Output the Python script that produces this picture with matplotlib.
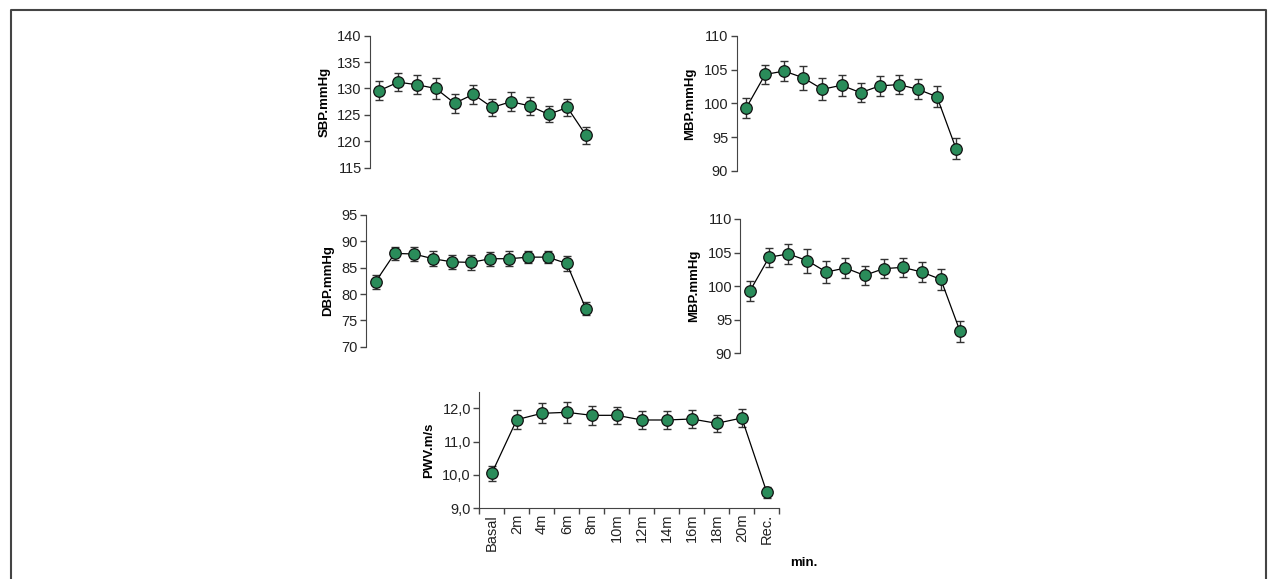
import matplotlib
matplotlib.use('Agg')
import matplotlib.pyplot as plt
from matplotlib.lines import Line2D

plt.rcParams['font.family'] = ['Liberation Sans', 'DejaVu Sans']

# time points (shared by all panels)
times = ['Basal', '2m', '4m', '6m', '8m', '10m', '12m', '14m', '16m', '18m', '20m', 'Rec.']

sbp = [129.6, 131.2, 130.7, 130.0, 127.2, 128.9, 126.4, 127.5, 126.7, 125.1, 126.4, 121.1]
sbp_err = [1.8, 1.7, 1.8, 1.9, 1.8, 1.8, 1.7, 1.8, 1.7, 1.5, 1.6, 1.6]

mbp = [99.3, 104.3, 104.8, 103.8, 102.1, 102.7, 101.6, 102.6, 102.8, 102.1, 101.0, 93.3]
mbp_err = [1.5, 1.4, 1.5, 1.8, 1.65, 1.55, 1.45, 1.45, 1.45, 1.5, 1.55, 1.55]

dbp = [82.3, 87.7, 87.6, 86.7, 86.1, 86.0, 86.7, 86.7, 87.0, 87.0, 85.8, 77.2]
dbp_err = [1.3, 1.2, 1.25, 1.4, 1.3, 1.35, 1.35, 1.4, 1.15, 1.2, 1.5, 1.2]

pwv = [10.05, 11.66, 11.85, 11.88, 11.79, 11.79, 11.65, 11.65, 11.68, 11.55, 11.71, 9.48]
pwv_err = [0.23, 0.29, 0.30, 0.31, 0.29, 0.25, 0.26, 0.27, 0.27, 0.26, 0.27, 0.17]

GREEN = '#2a8c5a'
AXC = '#444444'

fig = plt.figure(figsize=(12.69, 5.79), dpi=100)


def draw_panel(rect, vals, errs, ylim, yticks, ylabel, fmt=None, show_x=False):
    ax = fig.add_axes(rect)
    x = list(range(len(vals)))
    ax.errorbar(x, vals, yerr=errs, fmt='none', ecolor='#333333', elinewidth=1.0,
                capsize=3, capthick=1.0, zorder=2)
    ax.plot(x, vals, color='black', lw=0.9, zorder=3)
    ax.plot(x, vals, 'o', ms=8.3, mfc=GREEN, mec='#111111', mew=0.9, zorder=4)
    ax.set_xlim(-0.5, len(vals) - 0.5)
    ax.set_ylim(*ylim)
    ax.set_yticks(yticks)
    if fmt:
        ax.set_yticklabels([fmt(v) for v in yticks])
    for s in ['top', 'right']:
        ax.spines[s].set_visible(False)
    ax.spines['left'].set_color(AXC)
    ax.tick_params(axis='y', colors=AXC, labelcolor='#222222', labelsize=10.5,
                   length=4, width=1, pad=2)
    if show_x:
        ax.spines['bottom'].set_color(AXC)
        ax.set_xticks([i - 0.5 for i in range(len(vals) + 1)])
        ax.set_xticklabels([])
        ax.set_xticks(x, minor=True)
        ax.set_xticklabels(times, minor=True, rotation=90)
        ax.tick_params(axis='x', which='major', colors=AXC, length=4, width=1)
        ax.tick_params(axis='x', which='minor', length=0, labelsize=10.5,
                       labelcolor='#222222', pad=4)
    else:
        ax.spines['bottom'].set_visible(False)
        ax.set_xticks([])
    if ylabel:
        ax.set_ylabel(ylabel, fontsize=9.5, fontweight='bold', labelpad=5)
    return ax


draw_panel([0.2916, 0.7104, 0.1777, 0.228], sbp, sbp_err, (115, 140),
           [115, 120, 125, 130, 135, 140], 'SBP.mmHg')
draw_panel([0.5804, 0.7047, 0.1805, 0.2332], mbp, mbp_err, (90, 110),
           [90, 95, 100, 105, 110], 'MBP.mmHg')
draw_panel([0.2884, 0.4012, 0.1808, 0.2275], dbp, dbp_err, (70, 95),
           [70, 75, 80, 85, 90, 95], 'DBP.mmHg')
draw_panel([0.5835, 0.3898, 0.1805, 0.232], mbp, mbp_err, (90, 110),
           [90, 95, 100, 105, 110], 'MBP.mmHg')
draw_panel([0.3777, 0.1221, 0.2364, 0.2003], pwv, pwv_err, (9.0, 12.48),
           [9.0, 10.0, 11.0, 12.0], 'PWV.m/s',
           fmt=lambda v: f'{v:.1f}'.replace('.', ','), show_x=True)

fig.text(790 / 1269, 1 - 563 / 579, 'min.', fontsize=9.5, fontweight='bold',
         ha='left', va='center')

# frame around the figure (left, top, right edges)
W, H = 1269, 579
fx = [11.5 / W, 11.5 / W, 1266 / W, 1266 / W]
fy = [0, 1 - 9.5 / H, 1 - 9.5 / H, 0]
fig.add_artist(Line2D(fx, fy, transform=fig.transFigure, color='#444444', lw=1.5))

fig.savefig('out.png', dpi=100)
